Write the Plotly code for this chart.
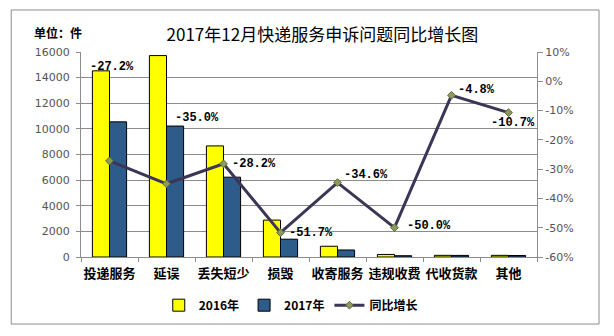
import plotly.graph_objects as go

categories = ["投递服务", "延误", "丢失短少", "损毁", "收寄服务", "违规收费", "代收货款", "其他"]
v2016 = [14530, 15720, 8670, 2880, 840, 200, 130, 130]
v2017 = [10550, 10220, 6230, 1390, 549, 100, 124, 116]
growth = [-27.2, -35.0, -28.2, -51.7, -34.6, -50.0, -4.8, -10.7]
growth_labels = ["-27.2%", "-35.0%", "-28.2%", "-51.7%", "-34.6%", "-50.0%", "-4.8%", "-10.7%"]
left_ticks = [0, 2000, 4000, 6000, 8000, 10000, 12000, 14000, 16000]
right_ticks = [-60, -50, -40, -30, -20, -10, 0, 10]
right_ticklabels = ["-60%", "-50%", "-40%", "-30%", "-20%", "-10%", "0%", "10%"]

# label pixel offsets (style)
label_offsets = [(2, 94), (30, 66), (30, 0), (30, 0), (28, 8), (34, 2), (25, 5), (4, -10)]

fig = go.Figure()
fig.add_trace(go.Bar(x=categories, y=v2016, name="<b>2016年</b>",
                     marker=dict(color="#FFFF00", line=dict(color="#000000", width=1))))
fig.add_trace(go.Bar(x=categories, y=v2017, name="<b>2017年</b>",
                     marker=dict(color="#2E5C8A", line=dict(color="#000000", width=1))))
fig.add_trace(go.Scatter(x=categories, y=growth, name="<b>同比增长</b>", yaxis="y2", mode="lines+markers",
                         line=dict(color="#3B3556", width=3),
                         marker=dict(symbol="diamond", size=6, color="#8C9A5E",
                                     line=dict(color="#5A6B3A", width=1))))

for c, g, t, (dx, dy) in zip(categories, growth, growth_labels, label_offsets):
    fig.add_annotation(x=c, y=g, xref="x", yref="y2", text="<b>%s</b>" % t, showarrow=False,
                       xshift=dx, yshift=dy,
                       font=dict(family="Liberation Mono", size=12, color="#000000"))

fig.add_annotation(x=-0.108, y=1.093, xref="paper", yref="paper", text="<b>单位：件</b>",
                   showarrow=False, xanchor="left", yanchor="middle",
                   font=dict(family="Noto Sans CJK SC", size=12, color="#000000"))

fig.add_shape(type="rect", xref="paper", yref="paper", x0=-0.153, x1=1.136, y0=-0.327, y1=1.205,
              line=dict(color="#8C8C8C", width=1), fillcolor="rgba(0,0,0,0)", layer="below")

fig.update_layout(
    width=614, height=336,
    margin=dict(l=81, r=77, t=52, b=79),
    paper_bgcolor="#FFFFFF", plot_bgcolor="#FFFFFF",
    title=dict(text="2017年12月快递服务申诉问题同比增长图", x=0.525, xanchor="center",
               y=0.895, yanchor="middle",
               font=dict(family="Noto Sans CJK SC", size=17, color="#000000")),
    barmode="group", bargap=0.4, bargroupgap=0,
    showlegend=True,
    legend=dict(orientation="h", x=0.46, xanchor="center", y=-0.235, yanchor="middle",
                font=dict(family="Noto Sans CJK SC", size=12, color="#000000"),
                traceorder="normal", itemwidth=30),
    xaxis=dict(type="category", showline=True, linecolor="#8C8C8C", linewidth=1,
               ticks="outside", tickson="boundaries", ticklen=4, tickcolor="#8C8C8C",
               tickangle=0, ticklabelstandoff=4,
               tickfont=dict(family="Noto Sans CJK SC", size=13, color="#000000"),
               tickprefix="<b>", ticksuffix="</b>", showgrid=False),
    yaxis=dict(range=[0, 16000], tickvals=left_ticks, tickformat="d", showline=True, linecolor="#8C8C8C",
               ticks="outside", ticklen=4, tickcolor="#8C8C8C", ticklabelstandoff=4,
               showgrid=True, gridcolor="#8C8C8C", gridwidth=1, zeroline=False,
               tickfont=dict(family="DejaVu Sans", size=11, color="#555555")),
    yaxis2=dict(range=[-60, 10], tickvals=right_ticks, ticktext=right_ticklabels,
                overlaying="y", side="right", showline=True, linecolor="#8C8C8C",
                ticks="outside", ticklen=5, tickcolor="#8C8C8C", showgrid=False, zeroline=False,
                tickfont=dict(family="DejaVu Sans", size=11, color="#555555")),
)

fig.write_html("out.html")
